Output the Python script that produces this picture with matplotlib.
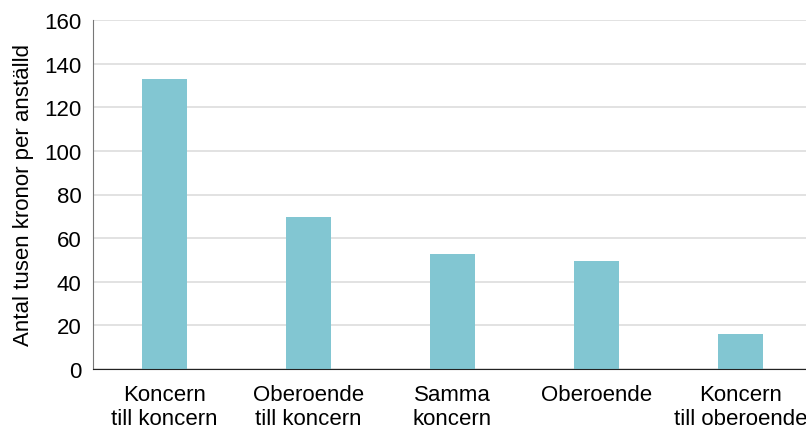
import matplotlib.pyplot as plt

categories = ["Koncern\ntill koncern", "Oberoende\ntill koncern", "Samma\nkoncern",
              "Oberoende", "Koncern\ntill oberoende"]
values = [133, 69.5, 52.5, 49.5, 16]

plt.rcParams["font.family"] = ["Liberation Sans", "DejaVu Sans"]

fig = plt.figure(figsize=(8.06, 4.31), dpi=100)
ax = fig.add_axes([92.5 / 806, 1 - 370 / 431, 720 / 806, 349 / 431])

ax.bar(range(len(categories)), values, width=0.315, color="#82c6d2", zorder=3)
ax.set_xlim(-0.5, len(categories) - 0.5)
ax.set_ylim(0, 160)
ax.set_yticks(range(0, 161, 20))
ax.set_xticks(range(len(categories)))
ax.set_xticklabels(categories, fontsize=16, linespacing=1.15)
ax.tick_params(axis="y", labelsize=16, length=0, pad=8)
ax.tick_params(axis="x", length=0, pad=11)
ax.grid(axis="y", color="#dddddd", linewidth=1.2, zorder=0)
ax.set_ylabel("Antal tusen kronor per anställd", fontsize=16, labelpad=7)

for s in ["top", "right"]:
    ax.spines[s].set_visible(False)
ax.spines["left"].set_color("#777777")
ax.spines["bottom"].set_color("#222222")
ax.spines["bottom"].set_zorder(4)

fig.savefig("out.png", dpi=100, facecolor="white")
